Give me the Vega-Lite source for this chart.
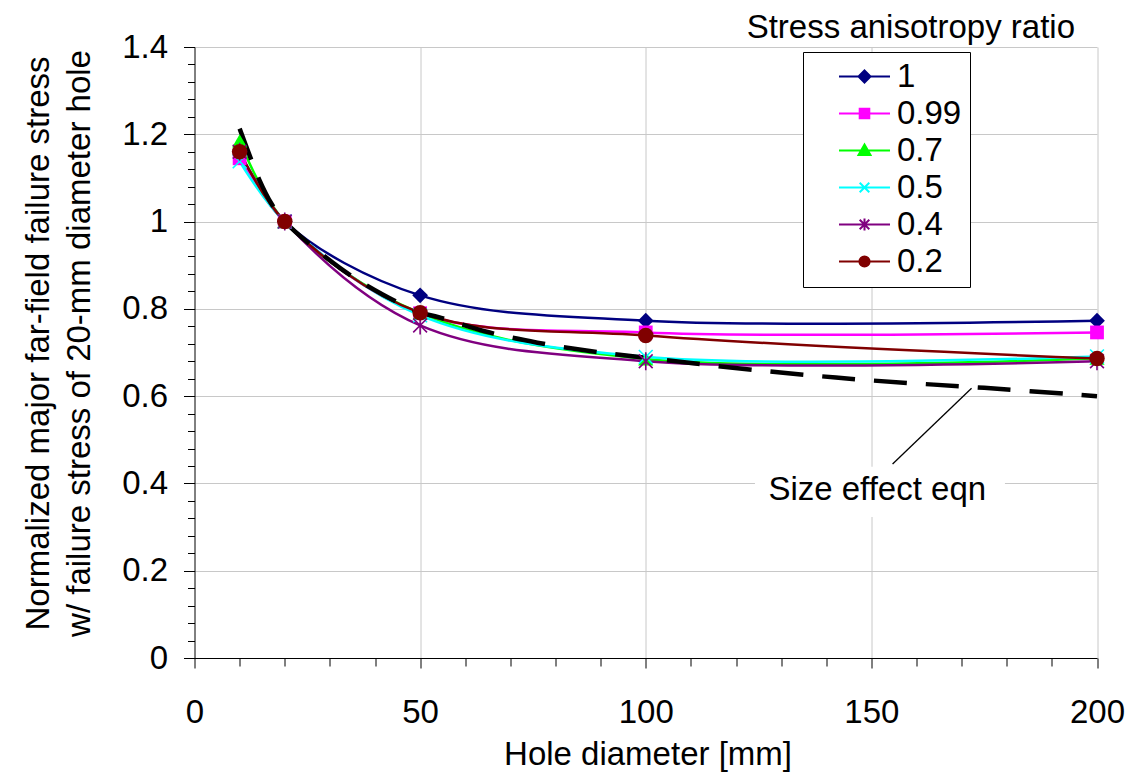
{
  "$schema": "https://vega.github.io/schema/vega-lite/v6.json",
  "width": 902.5,
  "height": 611,
  "autosize": "none",
  "padding": {"left": 194.5, "top": 47, "right": 31, "bottom": 119},
  "background": "white",
  "config": {
    "font": "Liberation Sans",
    "view": {"stroke": null},
    "legend": {
      "orient": "none",
      "legendX": 608.5,
      "legendY": 5,
      "title": null,
      "strokeColor": "black",
      "fillColor": "white",
      "padding": 8,
      "labelFontSize": 33,
      "labelColor": "black",
      "labelFont": "Liberation Sans",
      "symbolSize": 144,
      "symbolOffset": 37,
      "labelOffset": 16,
      "rowPadding": 3,
      "symbolStrokeWidth": 2,
      "labelLimit": 0
    }
  },
  "title": {
    "text": "Stress anisotropy ratio",
    "anchor": "end",
    "frame": "group",
    "fontSize": 33,
    "fontWeight": "normal",
    "baseline": "alphabetic",
    "offset": 0,
    "dy": 40,
    "dx": -22,
    "color": "black",
    "font": "Liberation Sans"
  },
  "datasets": {
    "series": [
      {"x": 10, "y": 1.16, "s": "1"},
      {"x": 20, "y": 1.0, "s": "1"},
      {"x": 50, "y": 0.831, "s": "1"},
      {"x": 100, "y": 0.773, "s": "1"},
      {"x": 200, "y": 0.773, "s": "1"},
      {"x": 10, "y": 1.145, "s": "0.99"},
      {"x": 20, "y": 1.0, "s": "0.99"},
      {"x": 50, "y": 0.79, "s": "0.99"},
      {"x": 100, "y": 0.746, "s": "0.99"},
      {"x": 200, "y": 0.746, "s": "0.99"},
      {"x": 10, "y": 1.185, "s": "0.7"},
      {"x": 20, "y": 1.0, "s": "0.7"},
      {"x": 50, "y": 0.79, "s": "0.7"},
      {"x": 100, "y": 0.685, "s": "0.7"},
      {"x": 200, "y": 0.687, "s": "0.7"},
      {"x": 10, "y": 1.138, "s": "0.5"},
      {"x": 20, "y": 1.0, "s": "0.5"},
      {"x": 50, "y": 0.785, "s": "0.5"},
      {"x": 100, "y": 0.69, "s": "0.5"},
      {"x": 200, "y": 0.691, "s": "0.5"},
      {"x": 10, "y": 1.16, "s": "0.4"},
      {"x": 20, "y": 1.0, "s": "0.4"},
      {"x": 50, "y": 0.762, "s": "0.4"},
      {"x": 100, "y": 0.68, "s": "0.4"},
      {"x": 200, "y": 0.68, "s": "0.4"},
      {"x": 10, "y": 1.16, "s": "0.2"},
      {"x": 20, "y": 1.0, "s": "0.2"},
      {"x": 50, "y": 0.791, "s": "0.2"},
      {"x": 100, "y": 0.739, "s": "0.2"},
      {"x": 200, "y": 0.686, "s": "0.2"}
    ],
    "eqn": [
      {"x": 10, "y": 1.213},
      {"x": 14.4, "y": 1.095},
      {"x": 17, "y": 1.042},
      {"x": 20, "y": 1.0},
      {"x": 32.2, "y": 0.894},
      {"x": 41.7, "y": 0.833},
      {"x": 50, "y": 0.792},
      {"x": 54.1, "y": 0.781},
      {"x": 64.5, "y": 0.748},
      {"x": 76, "y": 0.7225},
      {"x": 87.6, "y": 0.7035},
      {"x": 99, "y": 0.689},
      {"x": 125, "y": 0.659},
      {"x": 150, "y": 0.636},
      {"x": 175, "y": 0.619},
      {"x": 200, "y": 0.6}
    ],
    "box": [{"x": 124.2, "x2": 179.6, "y": 0.323, "y2": 0.438}],
    "note": [{"x": 151.3, "y": 0.385, "label": "Size effect eqn"}],
    "leader": [{"x": 154.7, "y": 0.4445, "x2": 172.2, "y2": 0.618}]
  },
  "encoding": {
    "x": {
      "field": "x",
      "type": "quantitative",
      "scale": {"domain": [0, 200], "nice": false, "zero": false},
      "axis": {
        "values": [0, 10, 20, 30, 40, 50, 60, 70, 80, 90, 100, 110, 120, 130, 140, 150, 160, 170, 180, 190, 200],
        "labelExpr": "datum.value % 50 === 0 ? datum.label : ''",
        "format": "d",
        "title": "Hole diameter [mm]",
        "grid": true,
        "gridColor": "#c8c8c8",
        "gridWidth": 1,
        "gridOpacity": {"condition": {"test": "datum.value % 50 === 0 && datum.value > 0", "value": 1}, "value": 0},
        "tickSize": {"condition": {"test": "datum.value % 50 === 0", "value": 10}, "value": 8},
        "tickColor": "black",
        "domainColor": "black",
        "labelFontSize": 33,
        "labelColor": "black",
        "labelBaseline": "middle",
        "labelPadding": 44,
        "labelFlush": false,
        "labelOverlap": false,
        "titleFontSize": 33,
        "titleFontWeight": "normal",
        "titleColor": "black",
        "titleX": 453,
        "titleY": 106,
        "titleBaseline": "alphabetic"
      }
    },
    "y": {
      "field": "y",
      "type": "quantitative",
      "scale": {"domain": [0, 1.4], "nice": false, "zero": false},
      "axis": {
        "values": [0, 0.04, 0.08, 0.12, 0.16, 0.2, 0.24, 0.28, 0.32, 0.36, 0.4, 0.44, 0.48, 0.52, 0.56, 0.6, 0.64, 0.68, 0.72, 0.76, 0.8, 0.84, 0.88, 0.92, 0.96, 1.0, 1.04, 1.08, 1.12, 1.16, 1.2, 1.24, 1.28, 1.32, 1.36, 1.4],
        "labelExpr": "round(datum.value * 100) % 20 === 0 ? format(datum.value, '~g') : ''",
        "title": ["Normalized major far-field failure stress", "w/ failure stress of 20-mm diameter hole"],
        "grid": true,
        "gridColor": "#c8c8c8",
        "gridWidth": 1,
        "gridOpacity": {"condition": {"test": "round(datum.value * 100) % 20 === 0 && datum.value > 0", "value": 1}, "value": 0},
        "tickSize": {"condition": {"test": "round(datum.value * 100) % 20 === 0", "value": 11}, "value": 7},
        "tickColor": "black",
        "domainColor": "black",
        "labelFontSize": 33,
        "labelColor": "black",
        "labelPadding": 16,
        "labelOverlap": false,
        "labelFlush": false,
        "titleFontSize": 33,
        "titleFontWeight": "normal",
        "titleColor": "black",
        "titleX": -146,
        "titleY": 296,
        "titleBaseline": "alphabetic",
        "titleLineHeight": 41
      }
    },
    "color": {
      "field": "s",
      "type": "nominal",
      "sort": null,
      "scale": {"domain": ["1", "0.99", "0.7", "0.5", "0.4", "0.2"], "range": ["#000080", "#ff00ff", "#00ff00", "#00ffff", "#800080", "#800000"]},
      "legend": {
        "encode": {
          "symbols": {
            "update": {
              "shape": {"signal": "datum.value === '1' ? 'M-4.25,0H4.25M0,-1L1,0L0,1L-1,0Z' : datum.value === '0.99' ? 'M-4.25,0H4.25M-0.8,-0.8H0.8V0.8H-0.8Z' : datum.value === '0.7' ? 'M-4.25,0H4.25M0,-1L1,0.75H-1Z' : datum.value === '0.5' ? 'M-4.25,0H4.25M-0.8,-0.8L0.8,0.8M-0.8,0.8L0.8,-0.8' : datum.value === '0.4' ? 'M-4.25,0H4.25M-0.8,-0.8L0.8,0.8M-0.8,0.8L0.8,-0.8M0,-1V1' : 'M-4.25,0H4.25M-0.85,0A0.85,0.85,0,1,0,0.85,0A0.85,0.85,0,1,0,-0.85,0Z'"},
              "fill": {"signal": "scale('color', datum.value)"},
              "stroke": {"signal": "scale('color', datum.value)"},
              "strokeWidth": {"value": 2},
              "opacity": {"value": 1}
            }
          }
        }
      }
    }
  },
  "layer": [
    {
      "data": {"name": "box"},
      "mark": {"type": "rect", "fill": "white", "stroke": null},
      "encoding": {"x2": {"field": "x2"}, "y2": {"field": "y2"}, "color": null}
    },
    {
      "data": {"name": "series"},
      "mark": {"type": "line", "interpolate": "catmull-rom", "strokeWidth": 2.5},
      "encoding": {"order": {"field": "x", "type": "quantitative"}}
    },
    {
      "data": {"name": "eqn"},
      "mark": {"type": "line", "interpolate": "catmull-rom", "strokeWidth": 4.5, "color": "black", "strokeDash": [33, 19]},
      "encoding": {"color": null}
    },
    {
      "data": {"name": "series"},
      "transform": [{"filter": {"field": "s", "equal": "1"}}],
      "mark": {"type": "point", "shape": "diamond", "filled": true, "size": 250, "opacity": 1}
    },
    {
      "data": {"name": "series"},
      "transform": [{"filter": {"field": "s", "equal": "0.99"}}],
      "mark": {"type": "point", "shape": "square", "filled": true, "size": 190, "opacity": 1}
    },
    {
      "data": {"name": "series"},
      "transform": [{"filter": {"field": "s", "equal": "0.7"}}],
      "mark": {"type": "point", "shape": "triangle-up", "filled": true, "size": 230, "opacity": 1}
    },
    {
      "data": {"name": "series"},
      "transform": [{"filter": {"field": "s", "equal": "0.5"}}],
      "mark": {"type": "point", "shape": "M-1,-1L1,1M-1,1L1,-1", "filled": false, "size": 190, "strokeWidth": 1.6, "opacity": 1}
    },
    {
      "data": {"name": "series"},
      "transform": [{"filter": {"field": "s", "equal": "0.4"}}],
      "mark": {"type": "point", "shape": "M-1,-1L1,1M-1,1L1,-1M0,-1.3V1.3", "filled": false, "size": 190, "strokeWidth": 1.6, "opacity": 1}
    },
    {
      "data": {"name": "series"},
      "transform": [{"filter": {"field": "s", "equal": "0.2"}}],
      "mark": {"type": "point", "shape": "circle", "filled": true, "size": 240, "opacity": 1}
    },
    {
      "data": {"name": "leader"},
      "mark": {"type": "rule", "color": "black", "strokeWidth": 1.3},
      "encoding": {"x2": {"field": "x2"}, "y2": {"field": "y2"}, "color": null}
    },
    {
      "data": {"name": "note"},
      "mark": {"type": "text", "fontSize": 33, "font": "Liberation Sans", "color": "black", "baseline": "middle", "align": "center"},
      "encoding": {"text": {"field": "label"}, "color": null}
    }
  ]
}
